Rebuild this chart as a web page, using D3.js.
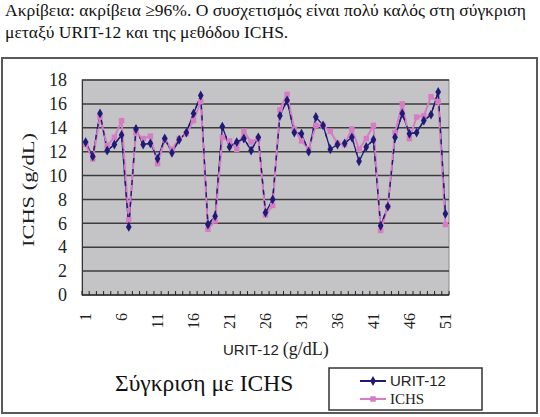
<!DOCTYPE html>
<html>
<head>
<meta charset="utf-8">
<script src="https://cdn.jsdelivr.net/npm/d3@7"></script>
<style>
  body { margin: 0; background: #fff; }
  svg { display: block; }
</style>
</head>
<body>
<div id="chart"></div>
<script>
// samples 1..51
const samples = d3.range(1, 52);
const uritValues = [12.8, 11.6, 15.2, 12.1, 12.6, 13.4, 5.7, 13.9, 12.6, 12.7,
                    11.4, 13.1, 11.9, 13.0, 13.6, 15.2, 16.7, 5.9, 6.6, 14.1,
                    12.4, 12.8, 13.1, 12.1, 13.2, 6.9, 8.0, 15.0, 16.3, 13.6,
                    13.5, 12.0, 14.9, 14.2, 12.2, 12.6, 12.7, 13.2, 11.2, 12.4,
                    13.0, 5.8, 7.4, 13.2, 15.2, 13.5, 13.6, 14.6, 15.1, 17.0, 6.8];
const ichsValues = [12.6, 11.4, 14.9, 12.5, 13.2, 14.6, 6.3, 13.6, 13.1, 13.3,
                    11.0, 13.0, 12.2, 13.1, 13.5, 14.6, 16.2, 5.5, 6.2, 13.2,
                    12.9, 12.2, 13.7, 12.8, 13.1, 6.7, 7.5, 15.5, 16.8, 13.9,
                    12.9, 12.2, 14.2, 14.2, 13.7, 12.7, 12.6, 13.9, 12.2, 13.1,
                    14.2, 5.4, 7.4, 13.6, 16.0, 13.1, 14.9, 15.0, 16.6, 16.2, 5.9];
const xTickLabels = [1, 6, 11, 16, 21, 26, 31, 36, 41, 46, 51];
const yTicks = [0, 2, 4, 6, 8, 10, 12, 14, 16, 18];
const seriesNames = ['URIT-12', 'ICHS'];

const width = 540, height = 417;
const plot = {left: 82, right: 449, top: 80, bottom: 295};
const navy = '#1f1a78', pink = '#d67cc4';
const serif = '"Liberation Serif"';
const sans = '"Liberation Sans"';

const svg = d3.select('#chart').append('svg')
  .attr('width', width)
  .attr('height', height);

svg.append('text')
  .attr('x', 5).attr('y', 16)
  .style('font-family', serif).style('font-size', '17.5px').style('fill', '#111')
  .text('Ακρίβεια: ακρίβεια ≥96%. Ο συσχετισμός είναι πολύ καλός στη σύγκριση');
svg.append('text')
  .attr('x', 5).attr('y', 38)
  .style('font-family', serif).style('font-size', '17.5px').style('fill', '#111')
  .text('μεταξύ URIT-12  και της μεθόδου ICHS.');

// outer frame
svg.append('rect')
  .attr('x', 2).attr('y', 58).attr('width', 535).attr('height', 355)
  .attr('fill', '#fff').attr('stroke', '#5a5a5a').attr('stroke-width', 2);

const x = d3.scalePoint().domain(samples).range([plot.left, plot.right]).padding(0.5);
const y = d3.scaleLinear().domain([0, 18]).range([plot.bottom, plot.top]);

svg.append('rect')
  .attr('x', plot.left).attr('y', plot.top)
  .attr('width', plot.right - plot.left).attr('height', plot.bottom - plot.top)
  .attr('fill', '#c4c4c7').attr('stroke', '#888').attr('stroke-width', 1);

// gridlines
svg.append('g').selectAll('line')
  .data(yTicks.filter(d => d > 0))
  .enter().append('line')
  .attr('x1', plot.left).attr('x2', plot.right)
  .attr('y1', d => y(d)).attr('y2', d => y(d))
  .attr('stroke', '#3c3c3c').attr('stroke-width', 1.5);

// y axis
const yAxis = svg.append('g')
  .attr('transform', `translate(${plot.left},0)`)
  .call(d3.axisLeft(y).tickValues(yTicks).tickSize(0).tickPadding(15));
yAxis.select('.domain').attr('stroke', '#333');
yAxis.selectAll('text')
  .style('font-family', serif).style('font-size', '18px').style('fill', '#222');

// x axis: ticks on category boundaries
const step = x.step();
const bounds = d3.range(samples.length + 1).map(i => plot.left + i * step);
svg.append('g').selectAll('line')
  .data(bounds)
  .enter().append('line')
  .attr('x1', d => d).attr('x2', d => d)
  .attr('y1', plot.bottom).attr('y2', plot.bottom - 4)
  .attr('stroke', '#222').attr('stroke-width', 1);
svg.append('line')
  .attr('x1', plot.left).attr('x2', plot.right)
  .attr('y1', plot.bottom).attr('y2', plot.bottom)
  .attr('stroke', '#222').attr('stroke-width', 1.5);

svg.append('g').selectAll('text')
  .data(xTickLabels)
  .enter().append('text')
  .attr('transform', d => `translate(${x(d)},${plot.bottom + 18}) rotate(-90)`)
  .attr('dy', '0.35em')
  .attr('text-anchor', 'end')
  .style('font-family', serif).style('font-size', '16px').style('fill', '#222')
  .text(d => d);

// axis titles
svg.append('text')
  .attr('transform', 'translate(28,190) rotate(-90)')
  .attr('dy', '0.35em')
  .attr('text-anchor', 'middle')
  .attr('textLength', 114).attr('lengthAdjust', 'spacingAndGlyphs')
  .style('font-family', serif).style('font-size', '16px').style('fill', '#222')
  .text('ICHS (g/dL)');

const xTitle = svg.append('text')
  .attr('x', 223).attr('y', 355)
  .style('fill', '#222');
xTitle.append('tspan').style('font-family', sans).style('font-size', '15px').text('URIT-12');
xTitle.append('tspan').attr('dx', 4).style('font-family', serif).style('font-size', '18px').text('(g/dL)');

// series
const line = d3.line().x((d, i) => x(samples[i])).y(d => y(d));
svg.append('path').datum(uritValues)
  .attr('d', line).attr('fill', 'none').attr('stroke', navy).attr('stroke-width', 1.3);
svg.append('path').datum(ichsValues)
  .attr('d', line).attr('fill', 'none').attr('stroke', pink).attr('stroke-width', 2);
svg.append('path').datum(uritValues)
  .attr('d', line).attr('fill', 'none').attr('stroke', navy).attr('stroke-width', 1.4)
  .attr('stroke-dasharray', '5,6');

const diamond = d3.symbol().type(d3.symbolDiamond).size(28);
const square = d3.symbol().type(d3.symbolSquare).size(30);

svg.append('g').selectAll('path')
  .data(ichsValues)
  .enter().append('path')
  .attr('d', square)
  .attr('transform', (d, i) => `translate(${x(samples[i])},${y(d)})`)
  .attr('fill', pink);
svg.append('g').selectAll('path')
  .data(uritValues)
  .enter().append('path')
  .attr('d', diamond)
  .attr('transform', (d, i) => `translate(${x(samples[i])},${y(d)})`)
  .attr('fill', navy);

// caption
svg.append('text')
  .attr('x', 115).attr('y', 391)
  .style('font-family', serif).style('font-size', '23.5px').style('fill', '#111')
  .text('Σύγκριση με ICHS');

// legend
const legend = svg.append('g').attr('transform', 'translate(329,368)');
legend.append('rect')
  .attr('width', 153).attr('height', 42)
  .attr('fill', '#fff').attr('stroke', '#333').attr('stroke-width', 1.5);
const rows = legend.selectAll('.legend-row')
  .data(seriesNames).enter().append('g')
  .attr('class', 'legend-row')
  .attr('transform', (d, i) => `translate(0,${13 + i * 18})`);
rows.append('line')
  .attr('x1', 31).attr('x2', 57)
  .attr('stroke', (d, i) => i === 0 ? navy : pink).attr('stroke-width', 2);
rows.append('path')
  .attr('d', (d, i) => i === 0 ? diamond() : square())
  .attr('transform', 'translate(44,0)')
  .attr('fill', (d, i) => i === 0 ? navy : pink);
rows.append('text')
  .attr('x', 61).attr('dy', '0.35em')
  .style('font-family', (d, i) => i === 0 ? sans : serif)
  .style('font-size', '15px').style('fill', '#222')
  .text(d => d);
</script>
</body>
</html>
